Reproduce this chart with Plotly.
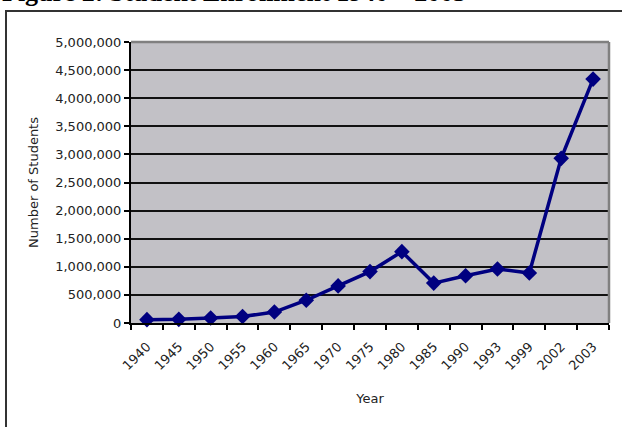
import plotly.graph_objects as go

years = ["1940", "1945", "1950", "1955", "1960", "1965", "1970", "1975",
         "1980", "1985", "1990", "1993", "1999", "2002", "2003"]
students = [60000, 65000, 90000, 115000, 195000, 405000, 660000, 915000,
            1270000, 710000, 840000, 960000, 890000, 2930000, 4340000]
y_ticks = list(range(0, 5000001, 500000))

W, H = 622, 427
L, R, T, B = 131, 13, 42, 104
pw, ph = W - L - R, H - T - B

fig = go.Figure()
fig.add_trace(go.Scatter(
    x=years, y=students, mode="lines+markers",
    line=dict(color="#000080", width=3.5),
    marker=dict(symbol="diamond", size=12, color="#000080"),
    cliponaxis=False, showlegend=False,
))

tickfont = dict(family="DejaVu Sans", size=13, color="#222222")
fig.update_layout(
    width=W, height=H,
    margin=dict(l=L, r=R, t=T, b=B),
    paper_bgcolor="white",
    plot_bgcolor="#c2c1c6",
    xaxis=dict(
        type="category", range=[-0.5, len(years) - 0.5],
        tickangle=-45, tickson="boundaries", ticks="outside", ticklen=5,
        tickcolor="black", tickwidth=1.5, showgrid=False,
        showline=True, linecolor="black", linewidth=2,
        tickfont=tickfont, ticklabelstandoff=9,
        title=dict(text="Year", font=dict(family="DejaVu Sans", size=13, color="#222222"), standoff=22),
    ),
    yaxis=dict(
        range=[0, 5000000], tickvals=y_ticks, tickformat=",",
        ticks="outside", ticklen=5, tickcolor="black", tickwidth=1.5,
        showgrid=True, gridcolor="#111111", gridwidth=1.5,
        showline=True, linecolor="black", linewidth=2,
        zeroline=False, tickfont=tickfont,
        title=dict(text="Number of Students", font=dict(family="DejaVu Sans", size=13, color="#222222"), standoff=14),
    ),
)

# plot-area border (top and right, gray)
fig.add_shape(type="line", xref="paper", yref="paper", x0=0, x1=1, y0=1, y1=1,
              line=dict(color="#808080", width=2.5))
fig.add_shape(type="line", xref="paper", yref="paper", x0=1, x1=1, y0=0, y1=1,
              line=dict(color="#808080", width=2.5))

def px_x(p):
    return (p - L) / pw

def px_y(p):
    return 1 - (p - T) / ph

# outer chart frame
fig.add_shape(type="rect", xref="paper", yref="paper",
              x0=px_x(6), x1=px_x(640), y0=px_y(11), y1=px_y(445),
              line=dict(color="#333333", width=2), layer="below")

fig.add_annotation(
    text="<b>Figure 2: Student Enrollment 1940 \u2013 2003</b>",
    xref="paper", yref="paper", x=px_x(0), y=px_y(9),
    xanchor="left", yanchor="bottom", showarrow=False,
    font=dict(family="Liberation Serif", size=26, color="black"),
)

fig.write_html("out.html")
